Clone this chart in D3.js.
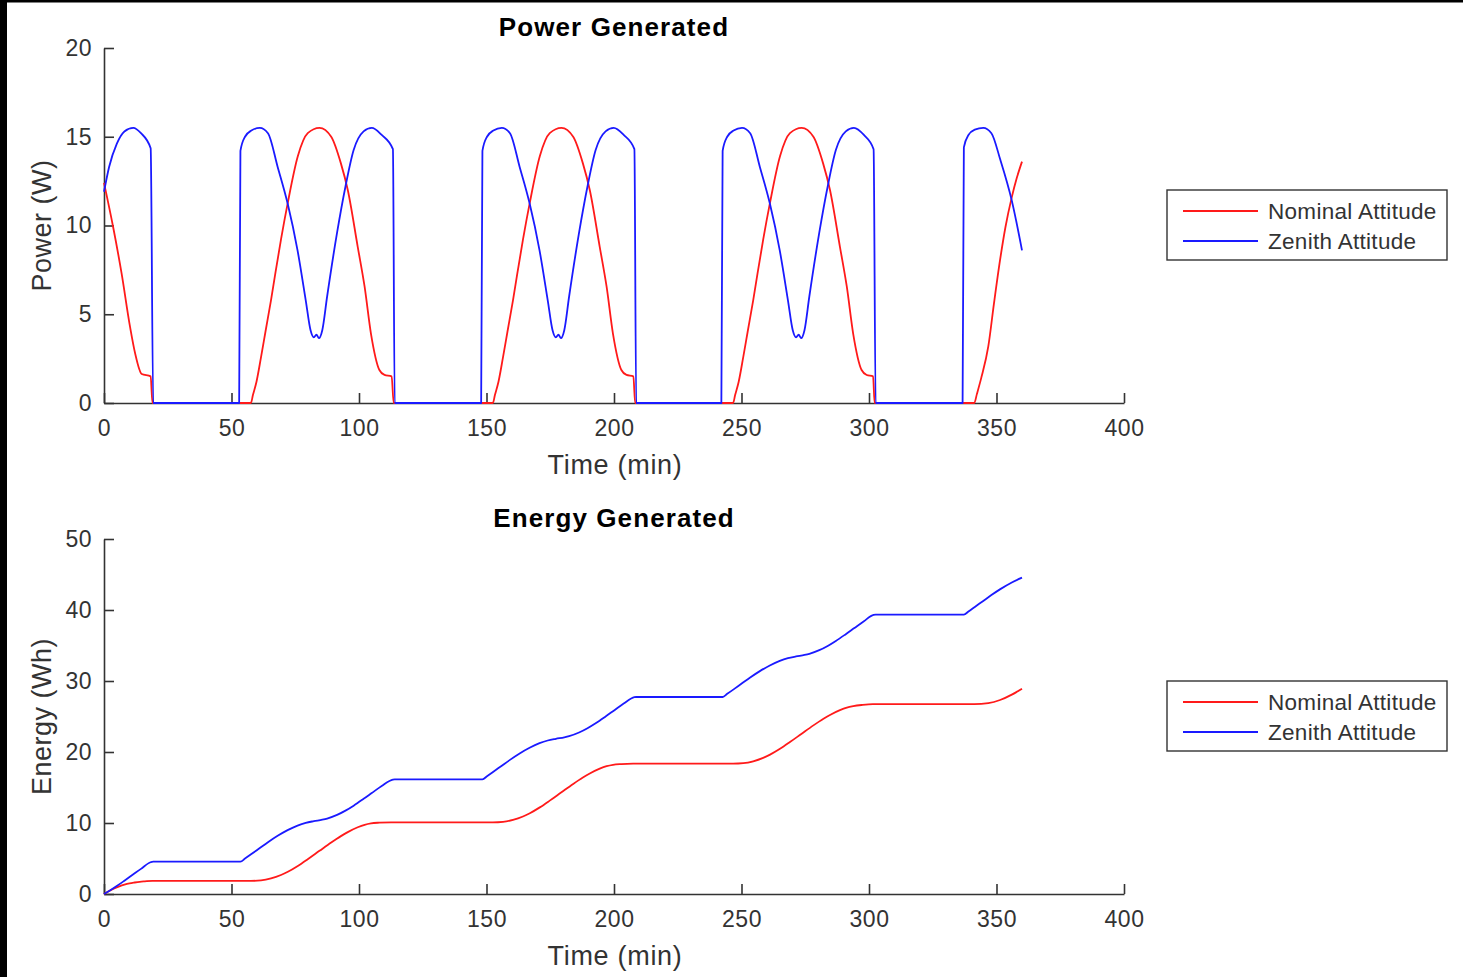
<!DOCTYPE html>
<html>
  <head>
    <meta charset="UTF-8" />
    <style>
      body {
        margin: 0;
        background: #fff;
      }
      svg {
        display: block;
        font-family: "Liberation Sans", Arial, sans-serif;
      }
    </style>
  </head>
  <body>
    <svg></svg>
    <script src="https://d3js.org/d3.v7.min.js"></script>
    <script>
      // [time (min), power (W)]
      var powerNominal = [
        [0, 12.4], [3.6, 9.9], [6.9, 7.3], [10.2, 4.3], [12.2, 2.8], [14.8, 1.63], [18.3, 1.5], [19, 0],
        [57.6, 0], [58.4, 0.45], [59.8, 1.2], [61.6, 2.6], [63.3, 4.0], [65.5, 5.8], [67.3, 7.4], [69.4, 9.2],
        [72.1, 11.3], [76, 13.9], [79.9, 15.2], [84.5, 15.5], [89.1, 15.0], [92.9, 13.5], [95.6, 12.0],
        [99.5, 8.8], [102.2, 6.55], [104.7, 3.9], [108, 1.86], [110, 1.58], [112.8, 1.5], [113.6, 0],
        [152.5, 0], [153.3, 0.45], [154.7, 1.2], [156.5, 2.6], [158.2, 4.0], [160.4, 5.8], [162.2, 7.4],
        [164.3, 9.2], [167, 11.3], [170.9, 13.9], [174.8, 15.2], [179.4, 15.5], [184, 15.0], [187.8, 13.5],
        [190.5, 12.0], [194.4, 8.8], [197.1, 6.55], [199.6, 3.9], [202.9, 1.86], [204.9, 1.58], [207.6, 1.5], [208.3, 0],
        [246.7, 0], [247.5, 0.45], [248.9, 1.2], [250.7, 2.6], [252.4, 4.0], [254.6, 5.8], [256.4, 7.4],
        [258.5, 9.2], [261.2, 11.3], [265.1, 13.9], [269, 15.2], [273.6, 15.5], [278.2, 15.0], [282, 13.5],
        [284.7, 12.0], [288.6, 8.8], [291.3, 6.55], [293.8, 3.9], [297.1, 1.86], [299.1, 1.58], [301.6, 1.5], [302.2, 0],
        [341.3, 0], [342.3, 0.5], [344, 1.4], [346.8, 3.2], [349, 5.6], [351.4, 8.06], [353.5, 9.9],
        [356, 11.6], [358, 12.7], [360, 13.6]
      ];
      var powerZenith = [
        [0, 11.9], [2, 13.3], [5, 14.6], [8, 15.3], [11.5, 15.5], [14.5, 15.2], [18.3, 14.35], [19.3, 0],
        [53, 0], [53.5, 14.2], [55.3, 15.0], [57.8, 15.35], [61.1, 15.5], [64.3, 15.2], [68.1, 13.3], [72, 11.25],
        [75.9, 8.6], [79.1, 5.8], [81, 4.1], [82.3, 3.7], [83.3, 3.85], [84.3, 3.65], [85.6, 4.1], [87.5, 6.0],
        [91.4, 9.6], [94.7, 12.2], [97.9, 14.25], [101.8, 15.3], [105, 15.5], [108.9, 15.1], [113.3, 14.3], [114, 0],
        [147.9, 0], [148.4, 14.2], [150.2, 15.0], [152.7, 15.35], [156, 15.5], [159.2, 15.2], [163, 13.3], [166.9, 11.25],
        [170.8, 8.6], [174, 5.8], [175.9, 4.1], [177.2, 3.7], [178.2, 3.85], [179.2, 3.65], [180.5, 4.1], [182.4, 6.0],
        [186.3, 9.6], [189.6, 12.2], [192.8, 14.25], [196.7, 15.3], [199.9, 15.5], [203.8, 15.1], [208, 14.3], [208.7, 0],
        [242.1, 0], [242.6, 14.2], [244.4, 15.0], [246.9, 15.35], [250.2, 15.5], [253.4, 15.2], [257.2, 13.3], [261.1, 11.25],
        [265, 8.6], [268.2, 5.8], [270.1, 4.1], [271.4, 3.7], [272.4, 3.85], [273.4, 3.65], [274.7, 4.1], [276.6, 6.0],
        [280.5, 9.6], [283.8, 12.2], [287, 14.25], [290.9, 15.3], [294.1, 15.5], [298, 15.1], [301.8, 14.3], [302.6, 0],
        [336.7, 0], [337.2, 14.4], [339, 15.1], [341.5, 15.4], [344.8, 15.5], [348, 15.2], [351.5, 13.7], [356, 11.4], [360, 8.6]
      ];

      // [time (min), energy (Wh)]
      var energyNominal = [
        [0, 0], [2, 0.42], [4, 0.78], [6, 1.08], [8, 1.32], [10, 1.5], [12, 1.62], [14, 1.72], [16, 1.78], [19, 1.85],
        [57.6, 1.85], [61.6, 1.92], [65.5, 2.19], [69.4, 2.67], [72.1, 3.13], [76, 3.95], [79.9, 4.9], [84.5, 6.08],
        [89.1, 7.25], [92.9, 8.15], [95.6, 8.72], [99.5, 9.4], [102.2, 9.75], [104.7, 9.95], [108, 10.05], [112.6, 10.1],
        [152.5, 10.1], [156.5, 10.17], [160.4, 10.44], [164.3, 10.92], [167, 11.38], [170.9, 12.2], [174.8, 13.15],
        [179.4, 14.33], [184, 15.5], [187.8, 16.4], [190.5, 16.97], [194.4, 17.65], [197.1, 18.0], [199.6, 18.2],
        [202.9, 18.3], [207.5, 18.35],
        [246.7, 18.35], [250.7, 18.42], [254.6, 18.69], [258.5, 19.17], [261.2, 19.63], [265.1, 20.45], [269, 21.4],
        [273.6, 22.58], [278.2, 23.75], [282, 24.65], [284.7, 25.22], [288.6, 25.9], [291.3, 26.25], [293.8, 26.45],
        [297.1, 26.62], [301.5, 26.75],
        [341.3, 26.75], [346.8, 26.89], [351.4, 27.32], [356, 28.08], [360, 28.92]
      ];
      var energyZenith = [
        [0, 0], [2, 0.42], [5, 1.12], [8, 1.87], [11.5, 2.77], [14.5, 3.54], [18.3, 4.47], [19.3, 4.55],
        [53.5, 4.55], [55.3, 4.99], [57.8, 5.62], [61.1, 6.47], [64.3, 7.29], [68.1, 8.19], [72, 8.99], [75.9, 9.64],
        [79.1, 10.02], [82.3, 10.26], [85.6, 10.47], [87.5, 10.63], [91.4, 11.14], [94.7, 11.74], [97.9, 12.44],
        [101.8, 13.4], [105, 14.22], [108.9, 15.22], [113.3, 16.12], [114, 16.15],
        [148.4, 16.15], [150.2, 16.59], [152.7, 17.22], [156, 18.07], [159.2, 18.89], [163, 19.79], [166.9, 20.59],
        [170.8, 21.24], [174, 21.62], [177.2, 21.86], [180.5, 22.07], [182.4, 22.23], [186.3, 22.74], [189.6, 23.34],
        [192.8, 24.04], [196.7, 25.0], [199.9, 25.82], [203.8, 26.82], [208, 27.72], [208.7, 27.75],
        [242.6, 27.75], [244.4, 28.19], [246.9, 28.82], [250.2, 29.67], [253.4, 30.49], [257.2, 31.39], [261.1, 32.19],
        [265, 32.84], [268.2, 33.22], [271.4, 33.46], [274.7, 33.67], [276.6, 33.83], [280.5, 34.34], [283.8, 34.94],
        [287, 35.64], [290.9, 36.6], [294.1, 37.42], [298, 38.42], [301.8, 39.32], [302.6, 39.35],
        [337.2, 39.35], [339, 39.79], [341.5, 40.43], [344.8, 41.28], [348, 42.1], [351.5, 42.94], [356, 43.88], [360, 44.55]
      ];

      var seriesNames = ["Nominal Attitude", "Zenith Attitude"];
      var seriesColors = ["#ff1a1a", "#1a1aff"];
      var timeTicks = [0, 50, 100, 150, 200, 250, 300, 350, 400];
      var powerTicks = [0, 5, 10, 15, 20];
      var energyTicks = [0, 10, 20, 30, 40, 50];

      let width = 1463,
        height = 977;

      let svg = d3.select("svg").attr("width", width).attr("height", height);

      // black frame edges of the screenshot
      svg.append("rect").attr("x", 0).attr("y", 0).attr("width", 7).attr("height", height).attr("fill", "#000");
      svg.append("rect").attr("x", 0).attr("y", 0).attr("width", width).attr("height", 2.5).attr("fill", "#000");

      function drawPanel(opts) {
        var x = d3.scaleLinear().domain([0, 400]).range([104, 1124]);
        var y = d3.scaleLinear().domain(opts.yDomain).range([opts.bottom, opts.top]);

        var g = svg.append("g");

        var xAxis = g
          .append("g")
          .attr("transform", "translate(0," + opts.bottom + ")")
          .call(
            d3.axisBottom(x).tickValues(timeTicks).tickSizeInner(-10).tickSizeOuter(0).tickPadding(17)
          );
        var yAxis = g
          .append("g")
          .attr("transform", "translate(104,0)")
          .call(
            d3.axisLeft(y).tickValues(opts.yTicks).tickSizeInner(-10).tickSizeOuter(0).tickPadding(12)
          );

        [xAxis, yAxis].forEach(function (a) {
          a.select(".domain").attr("stroke", "#333").attr("stroke-width", 1.6);
          a.selectAll(".tick line").attr("stroke", "#333").attr("stroke-width", 1.6);
          a.selectAll(".tick text")
            .attr("fill", "#333")
            .style("font-size", "23px")
            .style("letter-spacing", "0.5px")
            .style("font-family", "Liberation Sans, Arial, sans-serif");
        });

        var line = d3
          .line()
          .x((d) => x(d[0]))
          .y((d) => y(d[1]))
          .curve(d3.curveMonotoneX);

        opts.series.forEach(function (s, i) {
          g.append("path")
            .datum(s)
            .attr("d", line)
            .attr("fill", "none")
            .attr("stroke", seriesColors[i])
            .attr("stroke-width", 1.8)
            .attr("stroke-linejoin", "round");
        });

        // title
        g.append("text")
          .attr("x", 614)
          .attr("y", opts.top - 12)
          .attr("text-anchor", "middle")
          .style("font-size", "26px")
          .style("letter-spacing", "1.1px")
          .style("font-weight", "bold")
          .attr("fill", "#000")
          .text(opts.title);

        // axis labels
        g.append("text")
          .attr("x", 615)
          .attr("y", opts.bottom + 71)
          .attr("text-anchor", "middle")
          .style("font-size", "27px")
          .style("letter-spacing", "0.7px")
          .attr("fill", "#333")
          .text("Time (min)");

        g.append("text")
          .attr("transform", "translate(51," + (opts.top + opts.bottom) / 2 + ") rotate(-90)")
          .attr("text-anchor", "middle")
          .style("font-size", "27px")
          .style("letter-spacing", "0.5px")
          .attr("fill", "#333")
          .text(opts.yLabel);

        // legend
        var lg = g.append("g").attr("transform", "translate(1167," + opts.legendTop + ")");
        lg.append("rect")
          .attr("width", 280)
          .attr("height", 70)
          .attr("fill", "#fff")
          .attr("stroke", "#333")
          .attr("stroke-width", 1.4);
        seriesNames.forEach(function (name, i) {
          lg.append("line")
            .attr("x1", 16)
            .attr("x2", 91)
            .attr("y1", 21 + i * 30)
            .attr("y2", 21 + i * 30)
            .attr("stroke", seriesColors[i])
            .attr("stroke-width", 1.8);
          lg.append("text")
            .attr("x", 101)
            .attr("y", 21 + i * 30)
            .attr("dy", "0.36em")
            .style("font-size", "22.5px")
            .style("letter-spacing", "0.3px")
            .attr("fill", "#333")
            .text(name);
        });
      }

      drawPanel({
        title: "Power Generated",
        yLabel: "Power (W)",
        yDomain: [0, 20],
        yTicks: powerTicks,
        top: 48,
        bottom: 403,
        legendTop: 190,
        series: [powerNominal, powerZenith]
      });

      drawPanel({
        title: "Energy Generated",
        yLabel: "Energy (Wh)",
        yDomain: [0, 50],
        yTicks: energyTicks,
        top: 539,
        bottom: 894,
        legendTop: 681,
        series: [energyNominal, energyZenith]
      });
    </script>
  </body>
</html>
